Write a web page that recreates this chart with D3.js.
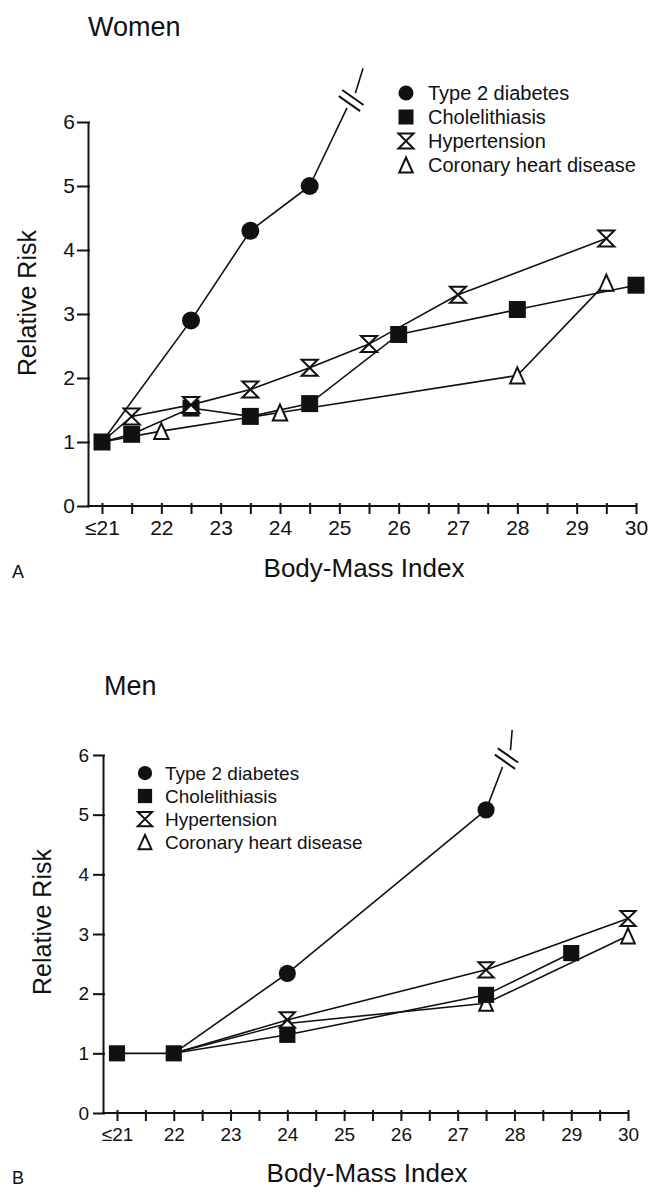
<!DOCTYPE html>
<html>
<head>
<meta charset="utf-8">
<script src="https://cdnjs.cloudflare.com/ajax/libs/d3/7.8.5/d3.min.js"></script>
<style>
  body { margin: 0; background: #fff; }
  svg text { font-family: "Liberation Sans", Arial, Helvetica, sans-serif; fill: #111; }
</style>
</head>
<body>
<div id="chart-area"></div>
<script>
// ticks
var bmiTicks = [21, 21.5, 22, 22.5, 23, 23.5, 24, 24.5, 25, 25.5, 26, 26.5, 27, 27.5, 28, 28.5, 29, 29.5, 30];
var bmiLabelValues = [21, 22, 23, 24, 25, 26, 27, 28, 29, 30];
var bmiLabels = ['\u226421', '22', '23', '24', '25', '26', '27', '28', '29', '30'];
var riskTicks = [0, 1, 2, 3, 4, 5, 6];

var legendLabels = ['Type 2 diabetes', 'Cholelithiasis', 'Hypertension', 'Coronary heart disease'];

// women  [bmi, relative risk]
var womenRef = [[21, 1.0]];
var womenDiabetes = [[22.5, 2.9], [23.5, 4.3], [24.5, 5.0]];
var womenDiabetesTail = [[25.13, 6.22], [25.27, 6.45], [25.40, 6.84]];
var womenChole = [[21.5, 1.12], [22.5, 1.53], [23.5, 1.40], [24.5, 1.60], [26, 2.68], [28, 3.07], [30, 3.45]];
var womenHypertension = [[21.5, 1.40], [22.5, 1.58], [23.5, 1.82], [24.5, 2.16], [25.5, 2.53], [27, 3.30], [29.5, 4.18]];
var womenCHD = [[22, 1.17], [24, 1.46], [28, 2.04], [29.5, 3.49]];

// men
var menRef = [[21, 1.0], [22, 1.0]];
var menDiabetes = [[24, 2.34], [27.5, 5.08]];
var menDiabetesTail = [[27.79, 5.80], [27.93, 6.08], [27.96, 6.42]];
var menChole = [[24, 1.31], [27.5, 1.98], [29, 2.68]];
var menHypertension = [[24, 1.56], [27.5, 2.40], [30, 3.26]];
var menCHD = [[24, 1.50], [27.5, 1.84], [30, 2.97]];

var svg = d3.select('#chart-area').append('svg')
    .attr('width', 651)
    .attr('height', 1192);

svg.append('rect').attr('width', 651).attr('height', 1192).attr('fill', '#fff');

var ink = '#111';

// marker shapes
function hourglass(s) {
  var h = s / 2;
  return 'M' + (-h) + ',' + (-h) + 'H' + h + 'L' + (-h) + ',' + h + 'H' + h + 'Z';
}
function triangle(s) {
  var h = s / 2;
  return 'M0,' + (-h) + 'L' + (h * 0.9) + ',' + h + 'H' + (-h * 0.9) + 'Z';
}
function marker(sel, type, s) {
  if (type == 'circle') {
    sel.attr('d', d3.symbol().type(d3.symbolCircle).size(Math.PI * s * s / 4)())
      .attr('fill', ink);
  } else if (type == 'square') {
    sel.attr('d', d3.symbol().type(d3.symbolSquare).size(s * s)())
      .attr('fill', ink);
  } else if (type == 'hourglass') {
    sel.attr('d', hourglass(s)).attr('fill', '#fff')
      .attr('stroke', ink).attr('stroke-width', 2).attr('stroke-linejoin', 'miter');
  } else {
    sel.attr('d', triangle(s)).attr('fill', '#fff')
      .attr('stroke', ink).attr('stroke-width', 2).attr('stroke-linejoin', 'miter');
  }
}

function drawPanel(p) {
  var g = svg.append('g');

  var x = d3.scaleLinear().domain([21, 30]).range([p.x21, p.x30]);
  var y = d3.scaleLinear().domain([0, 6]).range([p.y0, p.y6]);

  //x axis
  var xAxis = d3.axisBottom(x)
    .tickValues(bmiTicks)
    .tickSize(8)
    .tickPadding(p.xPad)
    .tickFormat(function(d) {
      var i = bmiLabelValues.indexOf(d);
      return i < 0 ? '' : bmiLabels[i];
    });

  var gx = g.append('g')
    .attr('transform', 'translate(0,' + p.y0 + ')')
    .call(xAxis);
  gx.attr('font-family', null).attr('font-size', null);
  gx.select('.domain').remove();
  gx.selectAll('.tick line').attr('y1', -3).attr('stroke', ink).attr('stroke-width', 2);
  gx.selectAll('.tick text').style('font-size', p.tickFont + 'px').attr('fill', ink);
  gx.append('line')
    .attr('x1', p.axisX - 1).attr('x2', x(30) + 1)
    .attr('stroke', ink).attr('stroke-width', 2);

  //y axis
  var yAxis = d3.axisLeft(y)
    .tickValues(riskTicks)
    .tickFormat(d3.format('d'))
    .tickSizeInner(p.yTick)
    .tickSizeOuter(0)
    .tickPadding(p.yPad);

  var gy = g.append('g')
    .attr('transform', 'translate(' + p.axisX + ',0)')
    .call(yAxis);
  gy.attr('font-family', null).attr('font-size', null);
  gy.select('.domain').attr('stroke', ink).attr('stroke-width', 2);
  gy.selectAll('.tick line').attr('x1', 2).attr('stroke', ink).attr('stroke-width', 2);
  gy.selectAll('.tick text').style('font-size', p.tickFont + 'px').attr('fill', ink);

  //labels
  g.append('text')
    .attr('x', p.titleX).attr('y', p.titleY)
    .attr('font-size', '27px')
    .text(p.title);

  g.append('text')
    .attr('x', p.xLabelX).attr('y', p.xLabelY)
    .attr('text-anchor', 'middle')
    .attr('font-size', '26px')
    .text('Body-Mass Index');

  g.append('text')
    .attr('transform', 'translate(' + p.yLabelX + ',' + p.yLabelY + ') rotate(-90)')
    .attr('text-anchor', 'middle')
    .attr('dy', '0.35em')
    .attr('font-size', '25px')
    .text('Relative Risk');

  g.append('text')
    .attr('x', 12).attr('y', p.letterY)
    .attr('font-size', '18px')
    .text(p.letter);

  //lines
  var line = d3.line()
    .x(function(d) { return x(d[0]); })
    .y(function(d) { return y(d[1]); });

  var lines = g.append('g')
    .attr('fill', 'none')
    .attr('stroke', ink)
    .attr('stroke-width', 1.6);

  var start = p.ref[p.ref.length - 1];
  if (p.ref.length > 1) lines.append('path').attr('d', line(p.ref));

  [p.diabetes, p.chole, p.hypertension, p.chd].forEach(function(pts) {
    lines.append('path').attr('d', line([start].concat(pts)));
  });

  // off-scale diabetes with break marks
  var last = p.diabetes[p.diabetes.length - 1];
  lines.append('path').attr('d', line([last, p.tail[0]]));
  lines.append('path').attr('d', line(p.tail.slice(1)));

  var a = [x(p.tail[0][0]), y(p.tail[0][1])],
      b = [x(p.tail[1][0]), y(p.tail[1][1])];
  var len = Math.hypot(b[0] - a[0], b[1] - a[1]);
  var u = [(b[0] - a[0]) / len, (b[1] - a[1]) / len];
  var mid = [(a[0] + b[0]) / 2, (a[1] + b[1]) / 2];
  var ang = 35 * Math.PI / 180;
  var v = [Math.cos(ang), Math.sin(ang)];
  [-3.5, 3.5].forEach(function(off) {
    var c = [mid[0] + u[0] * off, mid[1] + u[1] * off];
    lines.append('line')
      .attr('x1', c[0] - v[0] * 13 * p.k).attr('y1', c[1] - v[1] * 13 * p.k)
      .attr('x2', c[0] + v[0] * 13 * p.k).attr('y2', c[1] + v[1] * 13 * p.k)
      .attr('stroke-width', 2);
  });

  //markers
  var layers = [
    { pts: p.chd, type: 'triangle', size: 16 },
    { pts: p.chole, type: 'square', size: 17 },
    { pts: p.hypertension, type: 'hourglass', size: 16 },
    { pts: p.diabetes, type: 'circle', size: 18 },
    { pts: p.ref, type: 'square', size: 17 }
  ];
  layers.forEach(function(layer) {
    g.append('g').selectAll('path')
      .data(layer.pts)
      .enter().append('path')
      .attr('transform', function(d) { return 'translate(' + x(d[0]) + ',' + y(d[1]) + ')'; })
      .call(marker, layer.type, layer.size * p.k);
  });

  //legend
  var legendTypes = ['circle', 'square', 'hourglass', 'triangle'];
  var legend = g.append('g');
  legendLabels.forEach(function(label, i) {
    var row = legend.append('g')
      .attr('transform', 'translate(' + p.legendX + ',' + (p.legendY + i * p.legendGap) + ')');
    row.append('path').call(marker, legendTypes[i], 15 * p.k);
    row.append('text')
      .attr('x', p.legendText)
      .attr('dy', '0.35em')
      .attr('font-size', p.legendFont + 'px')
      .text(label);
  });
}

drawPanel({
  title: 'Women', letter: 'A', k: 1,
  axisX: 88, x21: 102, x30: 636, y0: 506, y6: 122,
  xPad: 6, yTick: 11, yPad: 2, tickFont: 21,
  titleX: 88, titleY: 36,
  xLabelX: 364, xLabelY: 577,
  yLabelX: 27, yLabelY: 303,
  letterY: 578,
  legendX: 406, legendY: 93, legendGap: 24, legendText: 22, legendFont: 20,
  ref: womenRef, diabetes: womenDiabetes, tail: womenDiabetesTail,
  chole: womenChole, hypertension: womenHypertension, chd: womenCHD
});

drawPanel({
  title: 'Men', letter: 'B', k: 0.95,
  axisX: 103, x21: 117, x30: 628, y0: 1113, y6: 755,
  xPad: 7, yTick: 10, yPad: 4, tickFont: 19,
  titleX: 104, titleY: 695,
  xLabelX: 367, xLabelY: 1182,
  yLabelX: 42, yLabelY: 922,
  letterY: 1184,
  legendX: 145, legendY: 773, legendGap: 23, legendText: 20, legendFont: 19,
  ref: menRef, diabetes: menDiabetes, tail: menDiabetesTail,
  chole: menChole, hypertension: menHypertension, chd: menCHD
});
</script>
</body>
</html>
